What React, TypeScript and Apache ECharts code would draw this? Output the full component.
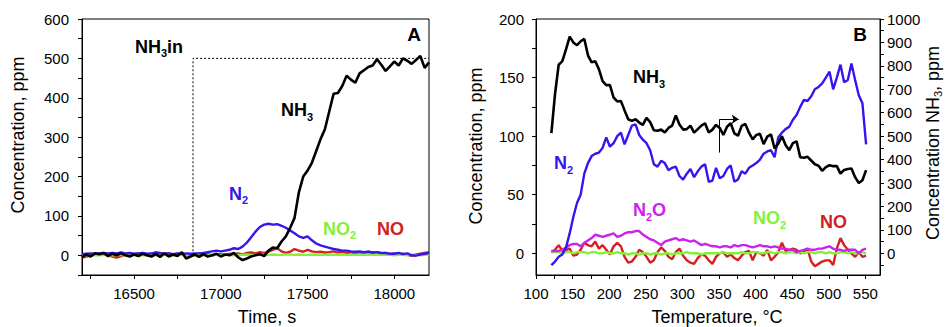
import React, { useEffect, useRef } from "react";
import * as echarts from "echarts";

const FONT = "'Liberation Sans', Arial, Helvetica, sans-serif";

const BLACK = "#000000";
const BLUE = "#3516f0";
const RED = "#d42020";
const GREEN = "#84f03a";
const MAGENTA = "#cc22ee";

// ---------------- Panel A: time (s), concentration (ppm) ----------------
const timeStart = 16200;
const timeStep = 25;

const nh3A = [
  -5, 2, -3, 5, 3, 6, -2, 4, 0,
  5, 0, -3, 2, -2, 4, 0, -3, 3,
  -4, 5, -3, 2, -2, 8, -8, -3, 2,
  -4, 3, -3, 0, 4, -3, 2, 0, 6,
  -5, -12, -8, -3, 0, 3, -2, 12, 20,
  18, 35, 48, 70, 95, 160, 200, 215, 235,
  265, 295, 320, 365, 410, 412, 430, 456, 446,
  438, 462, 470, 478, 482, 498, 484, 468, 480,
  492, 482, 500, 494, 486, 496, 506, 476, 490,
];

const n2A = [
  3, 4, 5, 4, 5, 6, 5, 6, 5,
  7, 5, 6, 4, 5, 6, 4, 5, 6,
  5, 4, 5, 3, 5, 4, 5, 4, 5,
  5, 6, 8, 10, 12, 10, 12, 14, 18,
  16, 22, 32, 46, 60, 72, 78, 80, 78,
  79, 75, 70, 63, 56, 48, 44, 48, 38,
  30, 25, 22, 19, 16, 14, 12, 12, 10,
  9, 10, 8, 9, 7, 8, 6, 6, 4,
  4, 6, 3, 5, 0, -1, 2, 4, 6,
];

const noA = [
  -6, -3, 0, 3, 2, 4, 0, -3, -6,
  -2, 2, 1, 3, 5, 2, 0, 3, 8,
  6, 3, 5, 2, 4, 1, 3, 0, 2,
  4, 1, 3, 0, 2, 3, 1, 4, 3,
  5, 2, 6, 7, 5, 8, 6, 9, 14,
  18, 10, 6, 9, 16, 12, 9, 14, 10,
  8, 9, 7, 8, 10, 7, 9, 6, 8,
  5, 7, 6, 9, 6, 8, 5, 6, 3,
  5, 2, 4, 1, -1, 2, 4, 6, 8,
];

const no2A = [
  0, 0, 1, 0, 0, 1, 0, 0, 0,
  1, 0, 0, 1, 0, 0, 0, 1, 0,
  0, 1, 0, 0, 0, 1, 0, 0, 1,
  0, 0, 0, 1, 1, 0, 1, 1, 0,
  1, 1, 2, 1, 1, 2, 1, 1, 2,
  1, 1, 2, 2, 1, 2, 1, 1, 2,
  1, 1, 1, 2, 1, 1, 2, 1, 1,
  1, 2, 1, 1, 1, 2, 1, 1, 1,
  0, 1, 1, 0, 1, 1, 0, 1, 1,
];

// NH3 inlet step (time, ppm)
const nh3InTimes = [16840, 16840, 18200];
const nh3InValues = [0, 500, 500];

const aTimeTicks = [16250, 16500, 16750, 17000, 17250, 17500, 17750, 18000];
const aTimeLabels = [16500, 17000, 17500, 18000];
const aConcTicks = [-50, 0, 50, 100, 150, 200, 250, 300, 350, 400, 450, 500, 550, 600];
const aConcLabels = [0, 100, 200, 300, 400, 500, 600];

// ---------------- Panel B: temperature (°C) ----------------
const tempStart = 121;
const tempStep = 5;

const nh3B = [
  513, 680, 805, 820, 870, 925, 900, 888, 905, 915,
  845, 815, 820, 785, 735, 718, 718, 665, 648, 650,
  610, 572, 565, 572, 558, 548, 578, 560, 525, 523,
  528, 516, 535, 545, 588, 550, 528, 530, 545, 515,
  530, 545, 555, 516, 528, 548, 535, 505, 540, 555,
  512, 502, 544, 552, 515, 486, 505, 510, 466, 498,
  508, 448, 468, 500, 462, 440, 470, 478, 410, 408,
  412, 396, 380, 374, 352, 368, 376, 372, 372, 340,
  356, 360, 362, 325, 300, 312, 355,
];

const n2B = [
  -10, -7, -3, -1, 5, 17, 31, 43, 50, 68,
  77, 83, 85, 86, 90, 99, 91, 94, 100, 103,
  93, 101, 109, 110, 101, 97, 94, 88, 76, 74,
  79, 77, 71, 73, 74, 66, 63, 68, 72, 65,
  70, 74, 76, 61, 62, 73, 64, 66, 72, 75,
  61, 63, 70, 68, 73, 75, 77, 80, 85, 87,
  88, 82, 99, 103, 106, 108, 114, 118, 125, 131,
  130, 134, 140, 142, 145, 150, 155, 140, 150, 161,
  146, 148, 162, 148, 135, 128, 93,
];

const n2oB = [
  2, 2, 2, 3, 5, 7, 8, 8, 6, 9,
  11, 13, 16, 15, 14, 15, 16, 17, 14, 15,
  17, 18, 18, 19, 19, 16, 14, 12, 11, 9,
  7, 10, 11, 12, 13, 11, 12, 11, 10, 11,
  9, 7, 8, 7, 6, 6, 5, 6, 6, 5,
  7, 6, 7, 7, 6, 5, 6, 7, 6, 6,
  5, 6, 5, 4, 4, 3, 3, 1, 2, 3,
  4, 3, 3, 4, 4, 5, 6, 4, 3, 3,
  2, 3, 3, 3, 0, 3, 4,
];

const noB = [
  1, 3, 7, 2, 3, 4, -2, -1, 3, 9,
  7, 6, 10, 4, 7, 3, -1, 6, 9, 6,
  -3, -8, -7, -3, 3, 1, -3, -8, -6, 1,
  5, 2, -3, -5, 1, 4, -2, -6, -8, -9,
  -4, -1, -2, -6, -9, -3, 0, 1, -3, -1,
  -4, -6, -2, 1, 2, -6, 1, 0, -2, 3,
  -6, -3, 1, 9, 2, 3, 4, 3, 0, 1,
  4, -7, -11, -9, -7, -6, -6, -10, 4, 13,
  7, 3, 0, -3, 1, -3, -2,
];

const no2B = [
  1, 1, 1, 0, 1, 1, 0, 1, 1, 1,
  0, 1, 1, 0, 0, 1, 0, 0, 1, 0,
  0, -1, 0, 0, -1, 0, 0, -1, 0, 0,
  -1, 0, 0, -1, 0, 0, 0, 1, 0, 0,
  0, -1, 0, 0, 0, 0, 0, 1, 0, 0,
  0, 0, 1, 0, 0, 1, 1, 0, 0, 1,
  1, 0, 1, 1, 0, 1, 1, 0, 1, 0,
  1, 1, 0, 1, 1, 0, 1, 0, 0, 1,
  1, 0, 1, 0, 0, 1, 0,
];

// arrow pointing to right axis (temperature, NH3 ppm)
const arrowTemps = [351, 351, 377];
const arrowNh3 = [430, 572, 572];

const bTempTicks = [100, 125, 150, 175, 200, 225, 250, 275, 300, 325, 350, 375, 400, 425, 450, 475, 500, 525, 550];
const bTempLabels = [100, 150, 200, 250, 300, 350, 400, 450, 500, 550];
const bConcTicks = [0, 25, 50, 75, 100, 125, 150, 175, 200];
const bConcLabels = [0, 50, 100, 150, 200];
const bNh3Ticks = [-50, 0, 50, 100, 150, 200, 250, 300, 350, 400, 450, 500, 550, 600, 650, 700, 750, 800, 850, 900, 950, 1000];
const bNh3Labels = [0, 100, 200, 300, 400, 500, 600, 700, 800, 900, 1000];

const toPairs = (start: number, step: number, vals: number[]) =>
  vals.map((v, i) => [start + i * step, v]);
const zip = (xs: number[], ys: number[]) => xs.map((x, i) => [x, ys[i]]);

function richLabel(
  parts: Array<[string, "n" | "s"]>,
  x: number,
  y: number,
  color: string,
  size = 18
) {
  return {
    type: "text",
    x,
    y,
    silent: true,
    style: {
      text: parts.map(([t, k]) => `{${k}|${t}}`).join(""),
      rich: {
        n: { fontSize: size, fontWeight: "bold", fontFamily: FONT, fill: color, verticalAlign: "middle" },
        s: { fontSize: 11, fontWeight: "bold", fontFamily: FONT, fill: color, padding: [13, 0, 0, 0], verticalAlign: "middle" },
      },
      align: "left",
      verticalAlign: "middle",
      textAlign: "left",
      textVerticalAlign: "middle",
    },
  };
}

function axisTitle(text: string, x: number, y: number, rotate: boolean) {
  return {
    type: "text",
    x,
    y,
    rotation: rotate ? Math.PI / 2 : 0,
    silent: true,
    style: {
      text,
      fontSize: 18,
      fontFamily: FONT,
      fill: "#000",
      align: "center",
      verticalAlign: "middle",
      textAlign: "center",
      textVerticalAlign: "middle",
    },
  };
}

function axisBase(ticks: number[], labels: number[], margin: number) {
  return {
    axisLine: { show: true, onZero: false, lineStyle: { color: "#000", width: 1 } },
    axisTick: { show: true, inside: false, length: 4, customValues: ticks, lineStyle: { color: "#000", width: 1 } },
    axisLabel: {
      show: true,
      customValues: labels,
      fontSize: 15,
      fontFamily: FONT,
      color: "#000",
      margin,
      formatter: (v: number) => String(v),
    },
    splitLine: { show: false },
  };
}

function lineSeries(name: string, data: number[][], color: string, xi: number, yi: number, width = 2.4) {
  return {
    name,
    type: "line",
    xAxisIndex: xi,
    yAxisIndex: yi,
    data,
    showSymbol: false,
    symbol: "none",
    lineStyle: { color, width },
    itemStyle: { color },
    silent: true,
  };
}

export default function App() {
  const ref = useRef<HTMLDivElement>(null);

  useEffect(() => {
    if (!ref.current) return;
    const chart = echarts.init(ref.current, undefined, { renderer: "svg" });

    const option: any = {
      animation: false,
      backgroundColor: "#ffffff",
      grid: [
        { left: 82, top: 19, width: 347, height: 256, show: true, borderColor: "#000", borderWidth: 1, backgroundColor: "transparent", containLabel: false },
        { left: 536, top: 19, width: 344, height: 256, show: true, borderColor: "#000", borderWidth: 1, backgroundColor: "transparent", containLabel: false },
      ],
      xAxis: [
        { type: "value", gridIndex: 0, min: 16200, max: 18200, ...axisBase(aTimeTicks, aTimeLabels, 11) },
        { type: "value", gridIndex: 1, min: 100, max: 570, ...axisBase(bTempTicks, bTempLabels, 11) },
      ],
      yAxis: [
        { type: "value", gridIndex: 0, min: -50, max: 600, ...axisBase(aConcTicks, aConcLabels, 13) },
        { type: "value", gridIndex: 1, min: -18.5, max: 200, ...axisBase(bConcTicks, bConcLabels, 12) },
        { type: "value", gridIndex: 1, min: -92.5, max: 1000, position: "right", ...axisBase(bNh3Ticks, bNh3Labels, 7) },
      ],
      series: [
        lineSeries("NO A", toPairs(timeStart, timeStep, noA), RED, 0, 0),
        lineSeries("NO2 A", toPairs(timeStart, timeStep, no2A), GREEN, 0, 0),
        lineSeries("N2 A", toPairs(timeStart, timeStep, n2A), BLUE, 0, 0),
        lineSeries("NH3 A", toPairs(timeStart, timeStep, nh3A), BLACK, 0, 0, 2.6),
        {
          name: "NH3 in",
          type: "line",
          xAxisIndex: 0,
          yAxisIndex: 0,
          data: zip(nh3InTimes, nh3InValues),
          showSymbol: false,
          symbol: "none",
          lineStyle: { color: "#000", width: 1, type: [2, 2] },
          silent: true,
        },
        lineSeries("NO B", toPairs(tempStart, tempStep, noB), RED, 1, 1),
        lineSeries("NO2 B", toPairs(tempStart, tempStep, no2B), GREEN, 1, 1),
        lineSeries("N2O B", toPairs(tempStart, tempStep, n2oB), MAGENTA, 1, 1),
        lineSeries("N2 B", toPairs(tempStart, tempStep, n2B), BLUE, 1, 1),
        {
          ...lineSeries("NH3 B", toPairs(tempStart, tempStep, nh3B), BLACK, 1, 2, 2.6),
          markLine: {
            silent: true,
            animation: false,
            label: { show: false },
            lineStyle: { color: "#000", width: 1, type: "solid" },
            symbolSize: [7, 7],
            data: [
              [
                { coord: [arrowTemps[0], arrowNh3[0]], symbol: "none" },
                { coord: [arrowTemps[1], arrowNh3[1]], symbol: "none" },
              ],
              [
                { coord: [arrowTemps[1], arrowNh3[1]], symbol: "none" },
                { coord: [arrowTemps[2], arrowNh3[2]], symbol: "arrow" },
              ],
            ],
          },
        },
      ],
      graphic: [
        // panel A annotations
        richLabel([["NH", "n"], ["3", "s"], ["in", "n"]], 135, 46.5, BLACK),
        richLabel([["NH", "n"], ["3", "s"]], 281, 110, BLACK),
        richLabel([["N", "n"], ["2", "s"]], 229, 193.5, BLUE),
        richLabel([["NO", "n"], ["2", "s"]], 323, 228.5, GREEN),
        richLabel([["NO", "n"]], 377, 228.5, RED),
        {
          type: "text", x: 414, y: 34, silent: true,
          style: { text: "A", fontSize: 19, fontWeight: "bold", fontFamily: FONT, fill: "#000", align: "center", verticalAlign: "middle", textAlign: "center", textVerticalAlign: "middle" },
        },
        // panel B annotations
        richLabel([["NH", "n"], ["3", "s"]], 633, 77, BLACK),
        richLabel([["N", "n"], ["2", "s"]], 554, 163, BLUE),
        richLabel([["N", "n"], ["2", "s"], ["O", "n"]], 633, 210, MAGENTA),
        richLabel([["NO", "n"], ["2", "s"]], 753, 218, GREEN),
        richLabel([["NO", "n"]], 820, 221.5, RED),
        {
          type: "text", x: 860, y: 34.5, silent: true,
          style: { text: "B", fontSize: 19, fontWeight: "bold", fontFamily: FONT, fill: "#000", align: "center", verticalAlign: "middle", textAlign: "center", textVerticalAlign: "middle" },
        },
        // axis titles
        axisTitle("Concentration, ppm", 17.5, 135, true),
        axisTitle("Time, s", 267, 317, false),
        axisTitle("Concentration, ppm", 475.5, 146, true),
        axisTitle("Temperature, °C", 717, 317, false),
        {
          type: "text",
          x: 933,
          y: 143,
          rotation: Math.PI / 2,
          silent: true,
          style: {
            text: "{n|Concentration NH}{s|3}{n|, ppm}",
            rich: {
              n: { fontSize: 18, fontFamily: FONT, fill: "#000", verticalAlign: "middle" },
              s: { fontSize: 11, fontFamily: FONT, fill: "#000", padding: [9, 0, 0, 0], verticalAlign: "middle" },
            },
            align: "center",
            verticalAlign: "middle",
            textAlign: "center",
            textVerticalAlign: "middle",
          },
        },
      ],
    };

    chart.setOption(option);
    return () => {
      chart.dispose();
    };
  }, []);

  return (
    <div
      ref={ref}
      style={{ position: "absolute", left: 0, top: 0, width: 945, height: 327, background: "#fff" }}
    />
  );
}
